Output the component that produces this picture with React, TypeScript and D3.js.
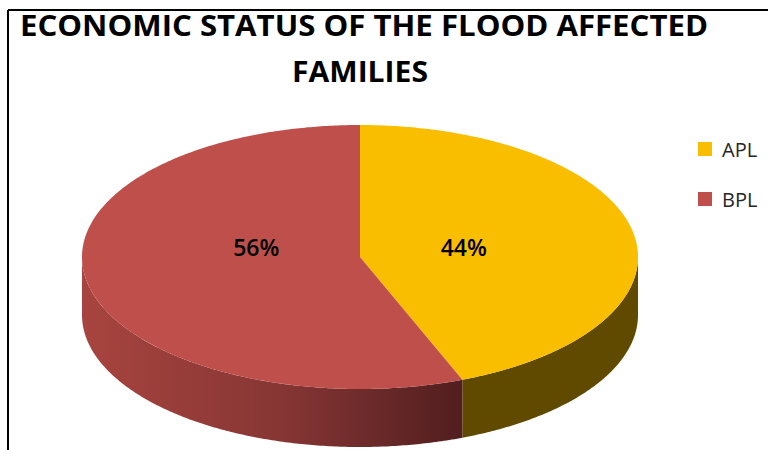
import React from "react";
import * as d3 from "d3";

const categories = ["APL", "BPL"];
const values = [44, 56];
const labels = ["44%", "56%"];
const titleLines = ["ECONOMIC STATUS OF THE FLOOD AFFECTED", "FAMILIES"];

const topColors = ["#FABE00", "#BE4F4B"];

export default function App() {
  const W = 768, H = 450;
  const cx = 360, cy = 257, rx = 278, ry = 132, depth = 58;

  const pie = d3.pie<number>().sort(null).value((d) => d).startAngle(0).endAngle(2 * Math.PI);
  const arcs = pie(values);

  const pt = (a: number, dy = 0): [number, number] => [cx + rx * Math.sin(a), cy - ry * Math.cos(a) + dy];
  const line = d3.line();

  const sample = (a0: number, a1: number, dy = 0) => {
    const n = Math.max(2, Math.ceil(Math.abs(a1 - a0) / 0.01));
    return d3.range(n + 1).map((i) => pt(a0 + ((a1 - a0) * i) / n, dy));
  };

  const topPaths = arcs.map((a) => {
    const pts: [number, number][] = [[cx, cy], ...sample(a.startAngle, a.endAngle)];
    return line(pts) + "Z";
  });

  const sidePaths = arcs.map((a) => {
    const s = Math.max(a.startAngle, Math.PI / 2);
    const e = Math.min(a.endAngle, (3 * Math.PI) / 2);
    if (e <= s) return null;
    const topPts = sample(s, e);
    const botPts = sample(e, s, depth);
    return line([...topPts, ...botPts]) + "Z";
  });

  const sideFills = ["#5F4A00", "url(#redSide)"];

  const labelPos = arcs.map((a) => {
    const m = (a.startAngle + a.endAngle) / 2;
    return [cx + 0.38 * rx * Math.sin(m), cy - 10];
  });

  const font = "'Open Sans', 'DejaVu Sans', sans-serif";

  return (
    <svg width={W} height={H} style={{ position: "absolute", left: 0, top: 0, background: "#fff" }}>
      <defs>
        <linearGradient id="redSide" gradientUnits="userSpaceOnUse" x1={cx - rx} y1={0} x2={482} y2={0}>
          <stop offset="0" stopColor="#A8443F" />
          <stop offset="0.5" stopColor="#863634" />
          <stop offset="1" stopColor="#4C1B1D" />
        </linearGradient>
      </defs>
      <line x1={8} y1={10} x2={W} y2={10} stroke="#000" strokeWidth={2} />
      <line x1={8} y1={10} x2={8} y2={H} stroke="#000" strokeWidth={2} />

      <text x={364} y={36} textAnchor="middle" fontFamily={font} fontWeight={700} fontSize={28}
        textLength={688} lengthAdjust="spacingAndGlyphs" fill="#000">{titleLines[0]}</text>
      <text x={360} y={82} textAnchor="middle" fontFamily={font} fontWeight={700} fontSize={28}
        textLength={136} lengthAdjust="spacingAndGlyphs" fill="#000">{titleLines[1]}</text>

      {sidePaths.map((p, i) => p && <path key={"s" + i} d={p} fill={sideFills[i]} />)}
      {topPaths.map((p, i) => <path key={"t" + i} d={p} fill={topColors[i]} />)}

      {labels.map((l, i) => (
        <text key={"l" + i} x={labelPos[i][0]} y={labelPos[i][1]} textAnchor="middle" dominantBaseline="central"
          fontFamily={font} fontWeight={600} fontSize={23} fill="#000">{l}</text>
      ))}

      {categories.map((c, i) => (
        <g key={"g" + i} transform={`translate(698, ${142 + i * 50})`}>
          <rect width={14} height={14} fill={topColors[i]} />
          <text x={24} y={15} fontFamily={font} fontSize={20} fill="#262626">{c}</text>
        </g>
      ))}
    </svg>
  );
}
